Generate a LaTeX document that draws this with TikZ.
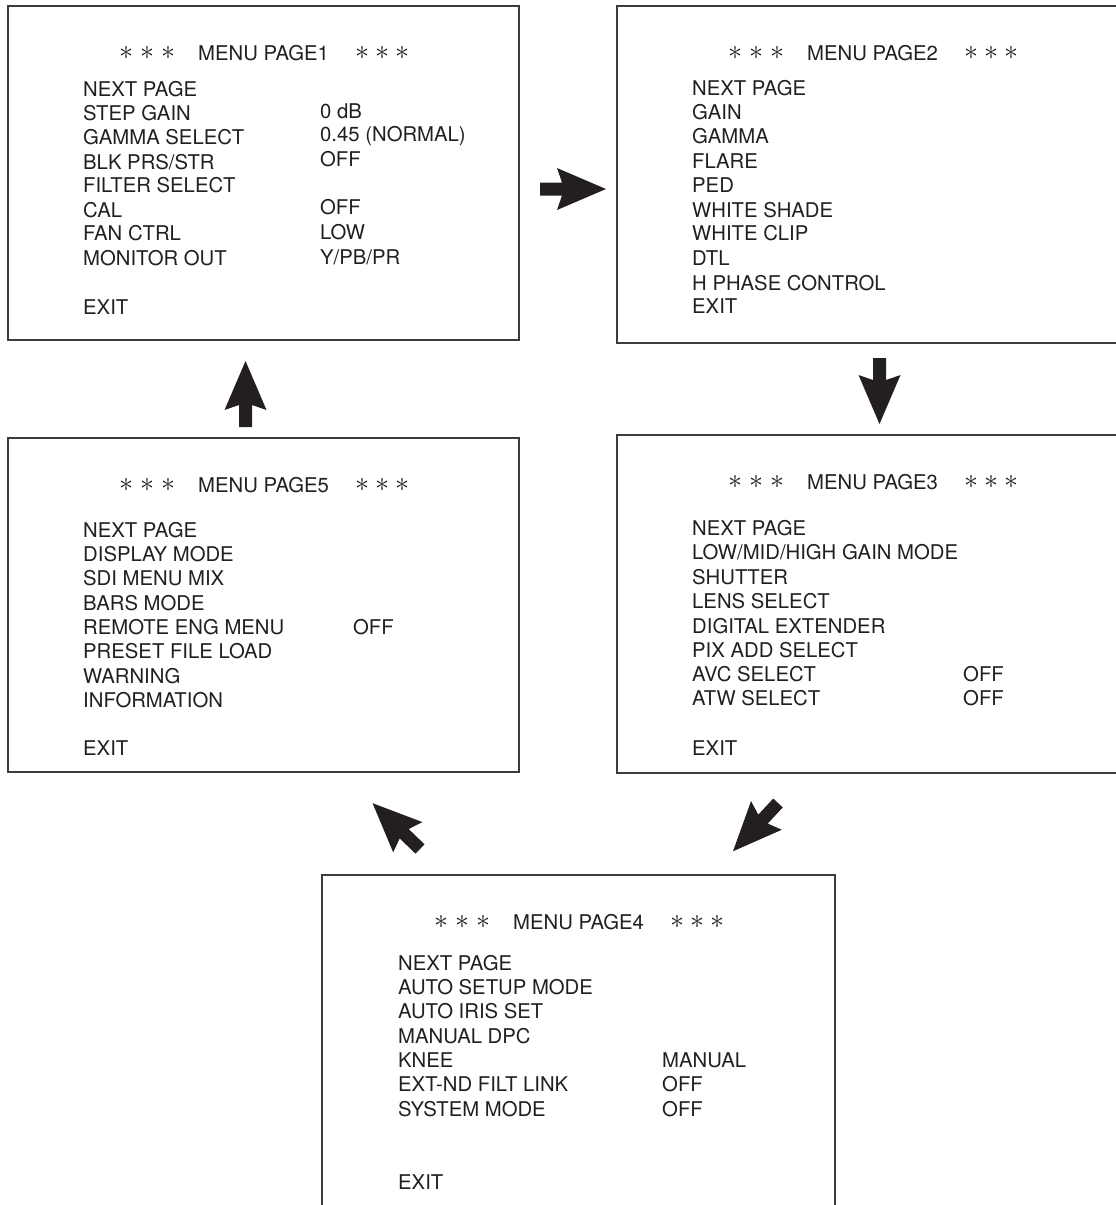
\documentclass[tikz,border=0pt]{standalone}
\usepackage{fontspec}
\setmainfont{TeX Gyre Heros}
\definecolor{ink}{RGB}{35,31,32}
\definecolor{frame}{RGB}{60,60,60}
\tikzset{
  menubox/.style={draw=frame, line width=1.4pt, inner sep=0pt, fill=none},
  txt/.style={anchor=base west, inner sep=0pt, font=\fontsize{20.3}{24}\selectfont, text=ink},
  stars/.style={inner sep=0pt, font=\fontsize{20}{20}\selectfont, text=ink, scale=1.35, transform shape},
  blockarrow/.pic={\fill[ink] (0,-6.5) -- (22,-6.5) -- (17,-21) -- (66,0) -- (17,21) -- (22,6.5) -- (0,6.5) -- cycle;}
}
\begin{document}
\begin{tikzpicture}[x=1pt,y=-1pt]
\useasboundingbox (0,0) rectangle (1116,1205);
\begin{scope}
\clip (0,0) rectangle (1116,1205);
% boxes
\node[menubox, minimum width=511pt, minimum height=334pt] (p1) at (263.5,173) {};
\node[menubox, minimum width=503pt, minimum height=337pt] (p2) at (868.5,174.5) {};
\node[menubox, minimum width=511pt, minimum height=334pt] (p5) at (263.5,605) {};
\node[menubox, minimum width=503pt, minimum height=338pt] (p3) at (868.5,604) {};
\node[menubox, minimum width=513pt, minimum height=340pt] (p4) at (578.5,1045) {};
\end{scope}

% ---------- PAGE 1 ----------
\node[stars] (p1s1) at (126,53) {$\ast$};
\node[stars] (p1s2) at (147,53) {$\ast$};
\node[stars] (p1s3) at (168,53) {$\ast$};
\node[txt] (p1t) at (198,60) {MENU PAGE1};
\node[stars] (p1s4) at (362,53) {$\ast$};
\node[stars] (p1s5) at (382,53) {$\ast$};
\node[stars] (p1s6) at (402,53) {$\ast$};
\node[txt] (p1i1) at (83,96) {NEXT PAGE};
\node[txt] (p1i2) at (83,120) {STEP GAIN};
\node[txt] (p1i3) at (83,144) {GAMMA SELECT};
\node[txt] (p1i4) at (83,169) {BLK PRS/STR};
\node[txt] (p1i5) at (83,192) {FILTER SELECT};
\node[txt] (p1i6) at (83,217) {CAL};
\node[txt] (p1i7) at (83,240) {FAN CTRL};
\node[txt] (p1i8) at (83,265) {MONITOR OUT};
\node[txt] (p1i9) at (83,314) {EXIT};
\node[txt] (p1v2) at (320,118) {0 dB};
\node[txt] (p1v3) at (320,141) {0.45 (NORMAL)};
\node[txt] (p1v4) at (320,166) {OFF};
\node[txt] (p1v6) at (320,214) {OFF};
\node[txt] (p1v7) at (320,239) {LOW};
\node[txt] (p1v8) at (320,264) {Y/PB/PR};

% ---------- PAGE 2 ----------
\node[stars] (p2s1) at (735,53) {$\ast$};
\node[stars] (p2s2) at (756,53) {$\ast$};
\node[stars] (p2s3) at (777,53) {$\ast$};
\node[txt] (p2t) at (807,60) {MENU PAGE2};
\node[stars] (p2s4) at (971,53) {$\ast$};
\node[stars] (p2s5) at (991,53) {$\ast$};
\node[stars] (p2s6) at (1011,53) {$\ast$};
\node[txt] (p2i1) at (692,95) {NEXT PAGE};
\node[txt] (p2i2) at (692,119) {GAIN};
\node[txt] (p2i3) at (692,143) {GAMMA};
\node[txt] (p2i4) at (692,168) {FLARE};
\node[txt] (p2i5) at (692,192) {PED};
\node[txt] (p2i6) at (692,217) {WHITE SHADE};
\node[txt] (p2i7) at (692,240) {WHITE CLIP};
\node[txt] (p2i8) at (692,265) {DTL};
\node[txt] (p2i9) at (692,290) {H PHASE CONTROL};
\node[txt] (p2i10) at (692,313) {EXIT};

% ---------- PAGE 5 ----------
\node[stars] (p5s1) at (126,485) {$\ast$};
\node[stars] (p5s2) at (147,485) {$\ast$};
\node[stars] (p5s3) at (168,485) {$\ast$};
\node[txt] (p5t) at (198,492) {MENU PAGE5};
\node[stars] (p5s4) at (362,485) {$\ast$};
\node[stars] (p5s5) at (382,485) {$\ast$};
\node[stars] (p5s6) at (402,485) {$\ast$};
\node[txt] (p5i1) at (83,537) {NEXT PAGE};
\node[txt] (p5i2) at (83,561) {DISPLAY MODE};
\node[txt] (p5i3) at (83,585) {SDI MENU MIX};
\node[txt] (p5i4) at (83,610) {BARS MODE};
\node[txt] (p5i5) at (83,634) {REMOTE ENG MENU};
\node[txt] (p5i6) at (83,658) {PRESET FILE LOAD};
\node[txt] (p5i7) at (83,683) {WARNING};
\node[txt] (p5i8) at (83,707) {INFORMATION};
\node[txt] (p5i9) at (83,755) {EXIT};
\node[txt] (p5v5) at (353,634) {OFF};

% ---------- PAGE 3 ----------
\node[stars] (p3s1) at (735,482) {$\ast$};
\node[stars] (p3s2) at (756,482) {$\ast$};
\node[stars] (p3s3) at (777,482) {$\ast$};
\node[txt] (p3t) at (807,489) {MENU PAGE3};
\node[stars] (p3s4) at (971,482) {$\ast$};
\node[stars] (p3s5) at (991,482) {$\ast$};
\node[stars] (p3s6) at (1011,482) {$\ast$};
\node[txt] (p3i1) at (692,535) {NEXT PAGE};
\node[txt] (p3i2) at (692,559) {LOW/MID/HIGH GAIN MODE};
\node[txt] (p3i3) at (692,584) {SHUTTER};
\node[txt] (p3i4) at (692,608) {LENS SELECT};
\node[txt] (p3i5) at (692,633) {DIGITAL EXTENDER};
\node[txt] (p3i6) at (692,657) {PIX ADD SELECT};
\node[txt] (p3i7) at (692,681) {AVC SELECT};
\node[txt] (p3i8) at (692,705) {ATW SELECT};
\node[txt] (p3i9) at (692,755) {EXIT};
\node[txt] (p3v7) at (963,681) {OFF};
\node[txt] (p3v8) at (963,705) {OFF};

% ---------- PAGE 4 ----------
\node[stars] (p4s1) at (441,922) {$\ast$};
\node[stars] (p4s2) at (462,922) {$\ast$};
\node[stars] (p4s3) at (483,922) {$\ast$};
\node[txt] (p4t) at (513,929) {MENU PAGE4};
\node[stars] (p4s4) at (677,922) {$\ast$};
\node[stars] (p4s5) at (697,922) {$\ast$};
\node[stars] (p4s6) at (717,922) {$\ast$};
\node[txt] (p4i1) at (398,970) {NEXT PAGE};
\node[txt] (p4i2) at (398,994) {AUTO SETUP MODE};
\node[txt] (p4i3) at (398,1018) {AUTO IRIS SET};
\node[txt] (p4i4) at (398,1043) {MANUAL DPC};
\node[txt] (p4i5) at (398,1067) {KNEE};
\node[txt] (p4i6) at (398,1091) {EXT-ND FILT LINK};
\node[txt] (p4i7) at (398,1116) {SYSTEM MODE};
\node[txt] (p4i8) at (398,1189) {EXIT};
\node[txt] (p4v5) at (662,1067) {MANUAL};
\node[txt] (p4v6) at (662,1091) {OFF};
\node[txt] (p4v7) at (662,1116) {OFF};

% ---------- block arrows ----------
\coordinate (a12) at (540,189);
\coordinate (a23) at (879.5,358);
\coordinate (a34) at (778,803);
\coordinate (a45) at (420,849);
\coordinate (a51) at (245.5,427);
\pic at (a12) {blockarrow};
\pic[rotate=-90] at (a23) {blockarrow};
\pic[rotate=-133] at (a34) {blockarrow};
\pic[rotate=136] at (a45) {blockarrow};
\pic[rotate=90] at (a51) {blockarrow};
\end{tikzpicture}
\end{document}
